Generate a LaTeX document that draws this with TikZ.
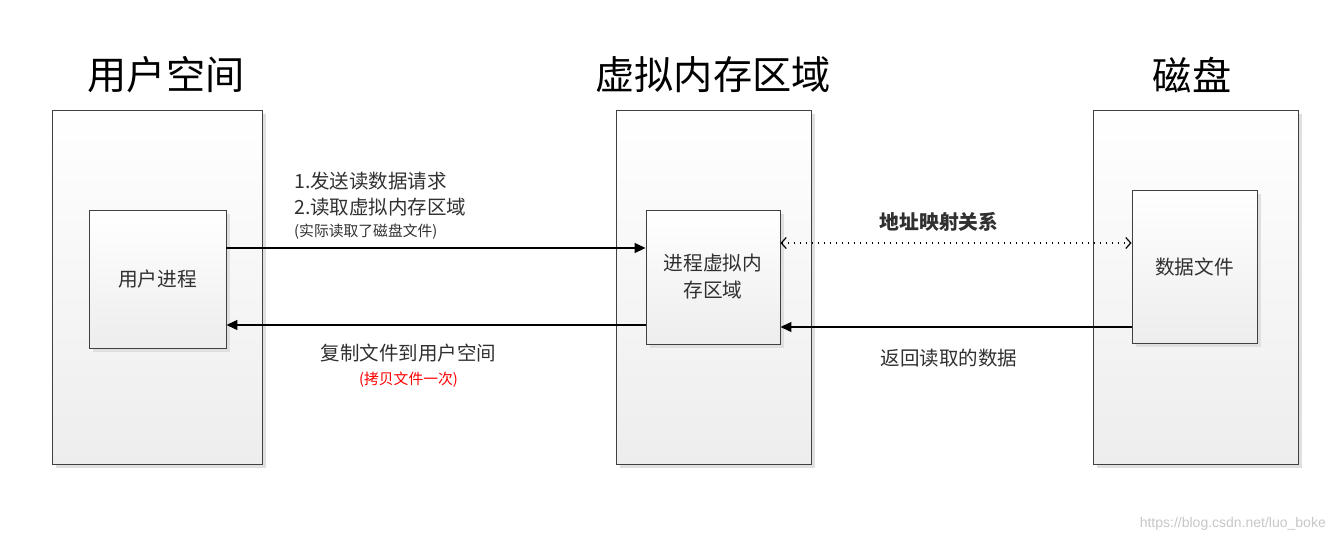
\documentclass[tikz,border=0pt]{standalone}
\usepackage{fontspec}
\setmainfont{Liberation Sans}
\newfontfamily\cjk{Noto Sans CJK SC}
\usetikzlibrary{arrows.meta,shadows}
\definecolor{boxline}{HTML}{404040}
\definecolor{txt}{HTML}{303030}
\tikzset{
  panel/.style={draw=boxline, line width=0.9pt, top color=white, bottom color=black!7,
    drop shadow={shadow xshift=4pt, shadow yshift=-4pt, fill=black!12, opacity=1},
    inner sep=0pt, align=center, text=txt, font=\cjk\fontsize{19.7}{27}\selectfont},
  title/.style={font=\cjk\fontsize{39.2}{44}\selectfont, text=black, inner sep=0pt},
  lbl/.style={font=\cjk\fontsize{19.5}{22}\selectfont, text=txt, inner sep=0pt},
  small/.style={font=\cjk\fontsize{14.8}{16}\selectfont, text=txt, inner sep=0pt},
  arr/.style={line width=1.3pt, -{Triangle[length=11pt,width=10pt]}},
  dots/.style={line width=1.3pt, dash pattern=on 1.3pt off 4.7pt,
    {Straight Barb[length=5pt,width=11pt,line width=1.2pt]}-{Straight Barb[length=5pt,width=11pt,line width=1.2pt]}}
}
\begin{document}
\begin{tikzpicture}[x=1pt,y=-1pt]
\useasboundingbox (0,0) rectangle (1335,543);
% outer panels
\node[panel, minimum width=210pt, minimum height=354pt] (lo) at (157,287) {};
\node[panel, minimum width=195pt, minimum height=354pt] (mo) at (713.5,287) {};
\node[panel, minimum width=205pt, minimum height=354pt] (ro) at (1195.5,287) {};
% inner boxes
\node[panel, minimum width=137pt, minimum height=138pt] (li) at (157.5,279) {用户进程};
\node[panel, minimum width=134pt, minimum height=134pt] (mi) at (713,277) {进程虚拟内\\存区域};
\node[panel, minimum width=125pt, minimum height=153pt] (ri) at (1194.5,266.5) {数据文件};
% titles
\node[title] (t1) at (166,75) {用户空间};
\node[title] (t2) at (713,75) {虚拟内存区域};
\node[title] (t3) at (1192,75) {磁盘};
% connectors
\draw[arr] ([yshift=31pt]li.east) -- ([yshift=31pt]li.east -| mi.west);
\draw[arr] ([yshift=-46pt]li.east -| mi.west) -- ([yshift=-46pt]li.east);
\draw[dots] ([yshift=34pt]mi.east) -- ([yshift=34pt]mi.east -| ri.west);
\draw[arr] ([yshift=-50pt]mi.east -| ri.west) -- ([yshift=-50pt]mi.east);
% labels
\node[lbl, anchor=west] (l1) at (294,181) {1.发送读数据请求};
\node[lbl, anchor=west] (l2) at (294,207) {2.读取虚拟内存区域};
\node[small, anchor=west] (l3) at (294,232) {(实际读取了磁盘文件)};
\node[lbl] (l4) at (408.5,353) {复制文件到用户空间};
\node[small, text=red] (l5) at (408.5,380) {(拷贝文件一次)};
\node[lbl, font=\cjk\bfseries\fontsize{19.8}{22}\selectfont] (l6) at (939,222) {地址映射关系};
\node[lbl] (l7) at (949,358) {返回读取的数据};
% watermark
\node[font=\fontsize{14}{16}\selectfont, text=black!22, anchor=east, inner sep=0pt] (wm) at (1326,524) {https://blog.csdn.net/luo\_boke};
\end{tikzpicture}
\end{document}
